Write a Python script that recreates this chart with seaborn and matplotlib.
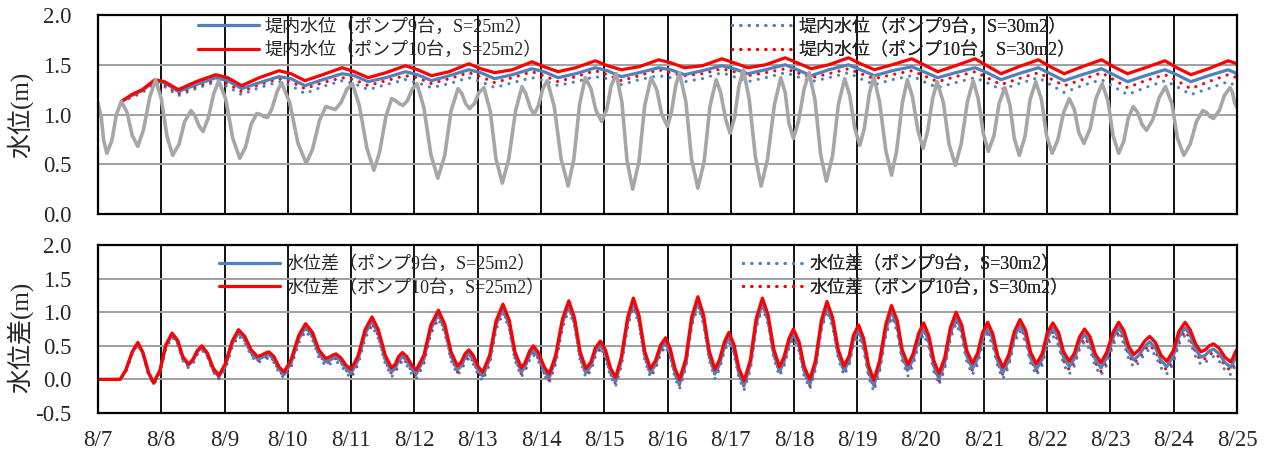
import matplotlib
matplotlib.use('Agg')
import matplotlib.pyplot as plt
import seaborn as sns
from matplotlib.lines import Line2D

# ---------------- data (days since 8/7) ----------------
DAY_LABELS = ['8/7', '8/8', '8/9', '8/10', '8/11', '8/12', '8/13', '8/14', '8/15', '8/16',
              '8/17', '8/18', '8/19', '8/20', '8/21', '8/22', '8/23', '8/24', '8/25']

TOP_LABELS = ['堤内水位（ポンプ9台，S=25m2）', '堤内水位（ポンプ10台，S=25m2）',
              '堤内水位（ポンプ9台，S=30m2）', '堤内水位（ポンプ10台，S=30m2）']
BOT_LABELS = ['水位差（ポンプ9台，S=25m2）', '水位差（ポンプ10台，S=25m2）',
              '水位差（ポンプ9台，S=30m2）', '水位差（ポンプ10台，S=30m2）']

# outside (river) water level, grey curve
GRAY_T = [0.00, 0.05, 0.09, 0.14, 0.22, 0.29, 0.37, 0.46, 0.54, 0.63, 0.72, 0.82,
          0.91, 1.00, 1.09, 1.18, 1.28, 1.37, 1.47, 1.53, 1.60, 1.66, 1.74, 1.83,
          1.91, 2.02, 2.13, 2.24, 2.33, 2.42, 2.51, 2.57, 2.62, 2.68, 2.75, 2.83,
          2.90, 3.03, 3.16, 3.29, 3.39, 3.50, 3.60, 3.65, 3.70, 3.75, 3.84, 3.93,
          4.02, 4.13, 4.25, 4.36, 4.45, 4.55, 4.64, 4.70, 4.76, 4.82, 4.89, 4.97,
          5.04, 5.15, 5.26, 5.37, 5.48, 5.58, 5.69, 5.75, 5.81, 5.87, 5.95, 6.02,
          6.10, 6.20, 6.29, 6.39, 6.49, 6.60, 6.70, 6.76, 6.83, 6.89, 6.96, 7.03,
          7.10, 7.21, 7.32, 7.43, 7.52, 7.61, 7.70, 7.79, 7.87, 7.96, 8.04, 8.11,
          8.19, 8.28, 8.36, 8.45, 8.55, 8.64, 8.74, 8.83, 8.91, 9.00, 9.06, 9.13,
          9.19, 9.29, 9.38, 9.48, 9.58, 9.67, 9.77, 9.84, 9.92, 9.99, 10.06, 10.13,
          10.20, 10.29, 10.39, 10.48, 10.58, 10.69, 10.79, 10.86, 10.92, 10.99, 11.07, 11.16,
          11.24, 11.33, 11.42, 11.51, 11.61, 11.70, 11.80, 11.88, 11.96, 12.04, 12.11, 12.19,
          12.26, 12.35, 12.45, 12.54, 12.62, 12.71, 12.79, 12.87, 12.96, 13.04, 13.11, 13.19,
          13.26, 13.36, 13.45, 13.55, 13.64, 13.74, 13.83, 13.91, 13.99, 14.07, 14.16, 14.24,
          14.33, 14.41, 14.48, 14.56, 14.65, 14.73, 14.82, 14.91, 14.99, 15.08, 15.17, 15.26,
          15.35, 15.43, 15.50, 15.58, 15.68, 15.77, 15.87, 15.96, 16.04, 16.13, 16.21, 16.28,
          16.36, 16.43, 16.50, 16.57, 16.67, 16.77, 16.87, 16.97, 17.06, 17.16, 17.26, 17.36,
          17.46, 17.52, 17.57, 17.63, 17.72, 17.80, 17.89, 17.93, 17.96, 18.00]
GRAY_V = [1.11, 0.98, 0.74, 0.61, 0.74, 1.00, 1.13, 1.02, 0.79, 0.68, 0.85, 1.18,
          1.35, 1.16, 0.78, 0.59, 0.70, 0.93, 1.04, 0.99, 0.88, 0.83, 0.96, 1.21,
          1.34, 1.15, 0.76, 0.56, 0.67, 0.90, 1.01, 1.00, 0.98, 0.97, 1.06, 1.23,
          1.32, 1.12, 0.71, 0.51, 0.65, 0.94, 1.08, 1.07, 1.06, 1.05, 1.12, 1.25,
          1.31, 1.09, 0.66, 0.44, 0.62, 0.98, 1.16, 1.14, 1.11, 1.09, 1.14, 1.26,
          1.31, 1.07, 0.60, 0.36, 0.59, 1.04, 1.26, 1.21, 1.11, 1.06, 1.11, 1.22,
          1.27, 1.03, 0.55, 0.31, 0.55, 1.04, 1.28, 1.21, 1.07, 1.00, 1.09, 1.26,
          1.34, 1.08, 0.55, 0.28, 0.55, 1.10, 1.37, 1.26, 1.04, 0.93, 1.05, 1.29,
          1.41, 1.12, 0.54, 0.25, 0.53, 1.09, 1.37, 1.25, 1.00, 0.88, 1.02, 1.29,
          1.42, 1.13, 0.55, 0.26, 0.53, 1.08, 1.35, 1.22, 0.95, 0.81, 0.97, 1.29,
          1.45, 1.16, 0.57, 0.28, 0.55, 1.10, 1.37, 1.22, 0.91, 0.76, 0.93, 1.26,
          1.42, 1.15, 0.60, 0.33, 0.59, 1.10, 1.36, 1.19, 0.86, 0.69, 0.86, 1.21,
          1.38, 1.13, 0.64, 0.39, 0.63, 1.11, 1.35, 1.18, 0.83, 0.66, 0.83, 1.16,
          1.33, 1.12, 0.70, 0.49, 0.70, 1.13, 1.34, 1.16, 0.81, 0.63, 0.79, 1.11,
          1.27, 1.10, 0.76, 0.59, 0.78, 1.15, 1.33, 1.15, 0.79, 0.61, 0.75, 1.02,
          1.16, 1.05, 0.82, 0.71, 0.86, 1.16, 1.31, 1.14, 0.79, 0.61, 0.73, 0.96,
          1.08, 1.02, 0.90, 0.84, 0.95, 1.17, 1.28, 1.11, 0.76, 0.59, 0.70, 0.93,
          1.04, 1.02, 0.98, 0.96, 1.04, 1.19, 1.27, 1.22, 1.12, 1.07]

# inner water level (top panel)
IN_T = [0.37, 0.53, 0.70, 0.90,
        1.05, 1.27, 1.55, 1.86, 2.05, 2.27, 2.55, 2.86, 3.05, 3.27, 3.55, 3.86,
        4.05, 4.27, 4.55, 4.86, 5.05, 5.27, 5.55, 5.86, 6.05, 6.27, 6.55, 6.86,
        7.05, 7.27, 7.55, 7.86, 8.05, 8.27, 8.55, 8.86, 9.05, 9.27, 9.55, 9.86,
        10.05, 10.27, 10.55, 10.86, 11.05, 11.27, 11.55, 11.86, 12.05, 12.27, 12.55, 12.86,
        13.05, 13.27, 13.55, 13.86, 14.05, 14.27, 14.55, 14.86, 15.05, 15.27, 15.55, 15.86,
        16.05, 16.27, 16.55, 16.86, 17.05, 17.27, 17.55, 17.86, 18.00]
IN_P10_S25 = [1.13, 1.20, 1.25, 1.35,
              1.33, 1.25, 1.33, 1.40, 1.37, 1.29, 1.37, 1.44, 1.41, 1.34, 1.40, 1.47,
              1.43, 1.37, 1.42, 1.49, 1.45, 1.39, 1.43, 1.51, 1.46, 1.42, 1.45, 1.53,
              1.48, 1.43, 1.47, 1.54, 1.49, 1.45, 1.48, 1.55, 1.52, 1.47, 1.49, 1.56,
              1.52, 1.47, 1.50, 1.57, 1.52, 1.46, 1.50, 1.57, 1.51, 1.45, 1.50, 1.56,
              1.50, 1.43, 1.49, 1.56, 1.49, 1.41, 1.48, 1.55, 1.48, 1.41, 1.48, 1.55,
              1.48, 1.41, 1.47, 1.54, 1.47, 1.40, 1.46, 1.54, 1.51]
IN_P9_S25 = [1.13, 1.19, 1.24, 1.34,
             1.32, 1.23, 1.30, 1.37, 1.34, 1.26, 1.32, 1.38, 1.36, 1.29, 1.35, 1.41,
             1.39, 1.33, 1.37, 1.43, 1.40, 1.34, 1.39, 1.45, 1.42, 1.36, 1.40, 1.46,
             1.43, 1.37, 1.41, 1.47, 1.44, 1.38, 1.42, 1.47, 1.45, 1.40, 1.44, 1.49,
             1.46, 1.41, 1.45, 1.50, 1.45, 1.39, 1.45, 1.50, 1.45, 1.39, 1.44, 1.48,
             1.43, 1.37, 1.42, 1.47, 1.42, 1.35, 1.41, 1.47, 1.41, 1.34, 1.40, 1.46,
             1.40, 1.33, 1.39, 1.45, 1.40, 1.33, 1.39, 1.45, 1.41]
IN_P10_S30 = [1.13, 1.18, 1.23, 1.33,
              1.30, 1.21, 1.28, 1.35, 1.31, 1.23, 1.30, 1.36, 1.33, 1.26, 1.32, 1.37,
              1.35, 1.29, 1.34, 1.39, 1.37, 1.31, 1.36, 1.42, 1.38, 1.32, 1.37, 1.43,
              1.39, 1.33, 1.38, 1.44, 1.40, 1.34, 1.39, 1.45, 1.42, 1.39, 1.41, 1.46,
              1.43, 1.39, 1.42, 1.46, 1.42, 1.37, 1.41, 1.46, 1.41, 1.36, 1.40, 1.44,
              1.39, 1.33, 1.38, 1.43, 1.37, 1.30, 1.36, 1.42, 1.36, 1.29, 1.35, 1.42,
              1.35, 1.27, 1.34, 1.40, 1.34, 1.26, 1.33, 1.40, 1.37]
IN_P9_S30 = [1.13, 1.17, 1.22, 1.32,
             1.28, 1.19, 1.26, 1.33, 1.28, 1.20, 1.27, 1.33, 1.29, 1.21, 1.28, 1.34,
             1.31, 1.25, 1.30, 1.35, 1.32, 1.27, 1.31, 1.37, 1.33, 1.27, 1.32, 1.37,
             1.34, 1.29, 1.33, 1.38, 1.36, 1.30, 1.35, 1.39, 1.37, 1.33, 1.36, 1.42,
             1.38, 1.33, 1.37, 1.42, 1.38, 1.33, 1.37, 1.42, 1.36, 1.30, 1.35, 1.39,
             1.33, 1.27, 1.32, 1.37, 1.32, 1.25, 1.31, 1.37, 1.30, 1.22, 1.29, 1.35,
             1.28, 1.20, 1.27, 1.34, 1.28, 1.20, 1.26, 1.33, 1.28]

# water level difference (bottom panel)
DIFF_T = [0.00, 0.12, 0.23, 0.35, 0.44, 0.54, 0.63, 0.71, 0.80, 0.88, 0.98, 1.07,
          1.17, 1.26, 1.34, 1.43, 1.50, 1.57, 1.64, 1.73, 1.82, 1.91, 2.01, 2.12,
          2.22, 2.32, 2.42, 2.52, 2.58, 2.64, 2.70, 2.78, 2.86, 2.94, 3.05, 3.17,
          3.28, 3.39, 3.49, 3.60, 3.65, 3.71, 3.76, 3.84, 3.92, 4.00, 4.11, 4.22,
          4.33, 4.43, 4.54, 4.64, 4.70, 4.75, 4.81, 4.88, 4.96, 5.03, 5.15, 5.26,
          5.38, 5.48, 5.58, 5.68, 5.74, 5.80, 5.86, 5.93, 6.01, 6.08, 6.19, 6.29,
          6.40, 6.50, 6.59, 6.69, 6.75, 6.82, 6.88, 6.96, 7.05, 7.13, 7.23, 7.34,
          7.44, 7.53, 7.62, 7.71, 7.79, 7.86, 7.94, 8.02, 8.10, 8.18, 8.27, 8.37,
          8.46, 8.55, 8.64, 8.73, 8.81, 8.89, 8.97, 9.04, 9.12, 9.19, 9.29, 9.38,
          9.48, 9.57, 9.66, 9.75, 9.82, 9.90, 9.97, 10.05, 10.13, 10.21, 10.31, 10.40,
          10.50, 10.59, 10.68, 10.77, 10.84, 10.92, 10.99, 11.08, 11.16, 11.25, 11.34, 11.43,
          11.52, 11.61, 11.70, 11.79, 11.87, 11.94, 12.02, 12.10, 12.18, 12.26, 12.35, 12.45,
          12.54, 12.63, 12.71, 12.80, 12.88, 12.97, 13.05, 13.13, 13.21, 13.29, 13.38, 13.47,
          13.56, 13.65, 13.73, 13.82, 13.90, 13.98, 14.06, 14.14, 14.22, 14.30, 14.39, 14.48,
          14.57, 14.66, 14.74, 14.83, 14.92, 15.00, 15.09, 15.18, 15.26, 15.35, 15.43, 15.51,
          15.59, 15.68, 15.76, 15.85, 15.94, 16.04, 16.13, 16.21, 16.29, 16.37, 16.45, 16.54,
          16.62, 16.71, 16.80, 16.89, 16.99, 17.08, 17.18, 17.26, 17.35, 17.43, 17.50, 17.56,
          17.63, 17.72, 17.81, 17.90, 17.93, 17.97, 18.00]
DIFF_P10_S25 = [0.00, 0.00, 0.00, 0.00, 0.14, 0.41, 0.55, 0.40, 0.10, -0.05, 0.14, 0.51,
                0.69, 0.58, 0.34, 0.23, 0.30, 0.43, 0.50, 0.39, 0.17, 0.06, 0.23, 0.57,
                0.74, 0.64, 0.44, 0.34, 0.36, 0.39, 0.41, 0.34, 0.19, 0.11, 0.29, 0.65,
                0.83, 0.70, 0.44, 0.31, 0.33, 0.36, 0.38, 0.32, 0.21, 0.15, 0.35, 0.74,
                0.93, 0.74, 0.36, 0.17, 0.23, 0.34, 0.40, 0.34, 0.21, 0.14, 0.36, 0.81,
                1.03, 0.82, 0.41, 0.20, 0.26, 0.38, 0.44, 0.36, 0.19, 0.11, 0.36, 0.87,
                1.12, 0.88, 0.41, 0.17, 0.25, 0.42, 0.50, 0.40, 0.19, 0.08, 0.35, 0.90,
                1.17, 0.92, 0.41, 0.16, 0.26, 0.47, 0.57, 0.44, 0.17, 0.03, 0.33, 0.92,
                1.21, 0.95, 0.42, 0.16, 0.28, 0.51, 0.62, 0.47, 0.16, 0.00, 0.31, 0.92,
                1.23, 0.96, 0.42, 0.15, 0.29, 0.56, 0.70, 0.52, 0.16, -0.02, 0.29, 0.90,
                1.21, 0.96, 0.45, 0.19, 0.33, 0.61, 0.75, 0.56, 0.19, 0.00, 0.29, 0.87,
                1.16, 0.92, 0.44, 0.20, 0.35, 0.66, 0.81, 0.61, 0.20, -0.01, 0.27, 0.82,
                1.10, 0.88, 0.44, 0.22, 0.38, 0.69, 0.84, 0.65, 0.28, 0.09, 0.32, 0.77,
                1.00, 0.81, 0.43, 0.24, 0.39, 0.70, 0.85, 0.68, 0.35, 0.18, 0.36, 0.71,
                0.89, 0.73, 0.40, 0.23, 0.38, 0.69, 0.84, 0.70, 0.41, 0.27, 0.39, 0.63,
                0.75, 0.63, 0.38, 0.25, 0.40, 0.70, 0.85, 0.73, 0.49, 0.37, 0.44, 0.57,
                0.64, 0.55, 0.36, 0.27, 0.42, 0.71, 0.85, 0.74, 0.52, 0.41, 0.44, 0.50,
                0.53, 0.46, 0.33, 0.26, 0.31, 0.40, 0.45]
DIFF_P9_S25 = [0.00, 0.00, 0.00, 0.00, 0.13, 0.40, 0.54, 0.39, 0.09, -0.06, 0.13, 0.49,
               0.67, 0.56, 0.32, 0.21, 0.28, 0.41, 0.48, 0.37, 0.15, 0.04, 0.19, 0.53,
               0.70, 0.60, 0.40, 0.30, 0.32, 0.35, 0.37, 0.30, 0.15, 0.07, 0.24, 0.60,
               0.78, 0.65, 0.39, 0.26, 0.28, 0.31, 0.33, 0.27, 0.16, 0.09, 0.29, 0.68,
               0.87, 0.68, 0.30, 0.11, 0.17, 0.28, 0.34, 0.28, 0.15, 0.08, 0.30, 0.75,
               0.97, 0.76, 0.35, 0.14, 0.20, 0.32, 0.38, 0.30, 0.13, 0.05, 0.30, 0.81,
               1.06, 0.82, 0.35, 0.11, 0.19, 0.36, 0.44, 0.34, 0.13, 0.02, 0.29, 0.84,
               1.11, 0.86, 0.35, 0.10, 0.20, 0.41, 0.51, 0.38, 0.11, -0.03, 0.27, 0.86,
               1.15, 0.89, 0.36, 0.10, 0.22, 0.45, 0.56, 0.40, 0.09, -0.07, 0.24, 0.85,
               1.16, 0.89, 0.35, 0.08, 0.22, 0.49, 0.63, 0.45, 0.09, -0.09, 0.22, 0.83,
               1.14, 0.89, 0.38, 0.12, 0.26, 0.54, 0.68, 0.49, 0.12, -0.07, 0.22, 0.80,
               1.09, 0.85, 0.37, 0.13, 0.28, 0.59, 0.73, 0.53, 0.12, -0.09, 0.19, 0.74,
               1.02, 0.80, 0.36, 0.14, 0.30, 0.61, 0.76, 0.57, 0.20, 0.01, 0.24, 0.69,
               0.92, 0.73, 0.35, 0.16, 0.31, 0.62, 0.77, 0.60, 0.27, 0.10, 0.28, 0.63,
               0.81, 0.65, 0.32, 0.15, 0.30, 0.61, 0.76, 0.62, 0.33, 0.19, 0.31, 0.55,
               0.67, 0.55, 0.30, 0.17, 0.32, 0.62, 0.77, 0.65, 0.41, 0.29, 0.36, 0.49,
               0.56, 0.47, 0.28, 0.19, 0.34, 0.63, 0.77, 0.66, 0.44, 0.33, 0.36, 0.42,
               0.45, 0.38, 0.25, 0.18, 0.23, 0.32, 0.37]
DIFF_P10_S30 = [0.00, 0.00, 0.00, 0.00, 0.12, 0.39, 0.53, 0.38, 0.08, -0.07, 0.12, 0.47,
                0.65, 0.54, 0.30, 0.19, 0.26, 0.39, 0.46, 0.35, 0.13, 0.02, 0.17, 0.51,
                0.68, 0.58, 0.38, 0.28, 0.30, 0.33, 0.35, 0.28, 0.13, 0.05, 0.22, 0.58,
                0.76, 0.63, 0.37, 0.24, 0.26, 0.29, 0.31, 0.25, 0.14, 0.06, 0.26, 0.65,
                0.84, 0.65, 0.27, 0.08, 0.14, 0.25, 0.31, 0.25, 0.12, 0.05, 0.27, 0.72,
                0.94, 0.73, 0.32, 0.11, 0.17, 0.29, 0.35, 0.27, 0.10, 0.02, 0.27, 0.78,
                1.03, 0.79, 0.32, 0.08, 0.16, 0.33, 0.41, 0.31, 0.10, -0.01, 0.26, 0.81,
                1.08, 0.83, 0.32, 0.07, 0.17, 0.38, 0.48, 0.35, 0.08, -0.06, 0.24, 0.83,
                1.12, 0.86, 0.33, 0.07, 0.19, 0.42, 0.53, 0.38, 0.07, -0.09, 0.22, 0.83,
                1.14, 0.87, 0.33, 0.06, 0.20, 0.47, 0.61, 0.43, 0.07, -0.11, 0.20, 0.81,
                1.12, 0.87, 0.36, 0.10, 0.24, 0.52, 0.66, 0.47, 0.10, -0.09, 0.20, 0.78,
                1.07, 0.83, 0.35, 0.11, 0.26, 0.57, 0.70, 0.50, 0.09, -0.12, 0.16, 0.71,
                0.99, 0.77, 0.33, 0.11, 0.27, 0.58, 0.73, 0.54, 0.17, -0.02, 0.21, 0.66,
                0.89, 0.70, 0.32, 0.13, 0.28, 0.59, 0.74, 0.57, 0.24, 0.07, 0.25, 0.60,
                0.78, 0.62, 0.29, 0.12, 0.27, 0.56, 0.71, 0.57, 0.28, 0.14, 0.26, 0.50,
                0.62, 0.50, 0.25, 0.12, 0.27, 0.57, 0.72, 0.60, 0.36, 0.24, 0.31, 0.44,
                0.51, 0.42, 0.23, 0.14, 0.29, 0.58, 0.72, 0.61, 0.39, 0.28, 0.31, 0.37,
                0.40, 0.33, 0.20, 0.13, 0.18, 0.27, 0.32]
DIFF_P9_S30 = [0.00, 0.00, 0.00, 0.00, 0.11, 0.38, 0.52, 0.37, 0.07, -0.08, 0.11, 0.45,
               0.63, 0.52, 0.28, 0.17, 0.24, 0.37, 0.44, 0.33, 0.11, 0.00, 0.14, 0.48,
               0.65, 0.55, 0.35, 0.25, 0.27, 0.30, 0.32, 0.25, 0.10, 0.02, 0.18, 0.54,
               0.72, 0.59, 0.33, 0.20, 0.22, 0.25, 0.27, 0.21, 0.10, 0.02, 0.22, 0.61,
               0.80, 0.61, 0.23, 0.04, 0.10, 0.21, 0.27, 0.21, 0.08, 0.01, 0.23, 0.68,
               0.90, 0.69, 0.28, 0.07, 0.13, 0.25, 0.31, 0.23, 0.06, -0.02, 0.23, 0.74,
               0.99, 0.75, 0.28, 0.04, 0.12, 0.29, 0.37, 0.27, 0.06, -0.05, 0.22, 0.77,
               1.04, 0.79, 0.28, 0.03, 0.13, 0.34, 0.44, 0.31, 0.04, -0.10, 0.20, 0.79,
               1.08, 0.82, 0.29, 0.03, 0.15, 0.38, 0.49, 0.33, 0.02, -0.14, 0.17, 0.78,
               1.09, 0.82, 0.28, 0.01, 0.15, 0.42, 0.56, 0.38, 0.02, -0.16, 0.15, 0.76,
               1.07, 0.82, 0.31, 0.05, 0.19, 0.47, 0.61, 0.42, 0.05, -0.14, 0.15, 0.73,
               1.02, 0.78, 0.30, 0.06, 0.21, 0.52, 0.64, 0.44, 0.03, -0.18, 0.10, 0.65,
               0.93, 0.71, 0.27, 0.05, 0.21, 0.52, 0.67, 0.48, 0.11, -0.08, 0.15, 0.60,
               0.83, 0.64, 0.26, 0.07, 0.22, 0.53, 0.68, 0.51, 0.18, 0.01, 0.19, 0.54,
               0.72, 0.56, 0.23, 0.06, 0.21, 0.50, 0.65, 0.51, 0.22, 0.08, 0.20, 0.44,
               0.56, 0.44, 0.19, 0.06, 0.21, 0.51, 0.66, 0.54, 0.30, 0.18, 0.25, 0.38,
               0.45, 0.36, 0.17, 0.08, 0.23, 0.52, 0.66, 0.55, 0.33, 0.22, 0.25, 0.31,
               0.34, 0.27, 0.14, 0.07, 0.12, 0.21, 0.26]

assert len(GRAY_T) == len(GRAY_V)
for s in (IN_P10_S25, IN_P9_S25, IN_P10_S30, IN_P9_S30):
    assert len(s) == len(IN_T)
for s in (DIFF_P10_S25, DIFF_P9_S25, DIFF_P10_S30, DIFF_P9_S30):
    assert len(s) == len(DIFF_T), (len(s), len(DIFF_T))

# ---------------- style ----------------
BLUE = '#4F81BD'
RED = '#FF0000'
GREY = '#A6A6A6'
DOT = (0, (0.01, 2.6))

sns.set_theme(style='white')
plt.rcParams['font.family'] = ['Liberation Serif', 'Noto Sans CJK JP']
plt.rcParams['axes.unicode_minus'] = False

W, H = 1267, 459
fig = plt.figure(figsize=(W / 100, H / 100), dpi=100)
ax1 = fig.add_axes([98 / W, 1 - 214 / H, 1139 / W, 199 / H])
ax2 = fig.add_axes([98 / W, 1 - 413 / H, 1139 / W, 168 / H])


def style_axes(ax, ylim, yticks, show_x):
    ax.set_xlim(0, 18)
    ax.set_ylim(*ylim)
    ax.set_xticks(range(19))
    ax.set_yticks(yticks)
    ax.set_yticklabels(['%.1f' % v for v in yticks])
    if show_x:
        ax.set_xticklabels(DAY_LABELS)
    else:
        ax.set_xticklabels([])
    ax.set_axisbelow(True)
    ax.yaxis.grid(True, color='#A0A0A0', linewidth=1.4)
    ax.xaxis.grid(True, color='black', linewidth=1.3)
    for sp in ax.spines.values():
        sp.set_color('black')
        sp.set_linewidth(1.6)
        sp.set_visible(True)
    ax.tick_params(axis='y', length=0, labelsize=16.5, pad=19)
    ax.tick_params(axis='x', length=0, labelsize=16.5, pad=12)


def draw(ax, x, y, color, lw, dotted=False, z=2):
    kw = dict(linestyle=DOT, dash_capstyle='round') if dotted else dict(solid_joinstyle='round',
                                                                        solid_capstyle='round')
    sns.lineplot(x=x, y=y, ax=ax, color=color, linewidth=lw, errorbar=None,
                 sort=False, zorder=z, **kw)


# top panel
draw(ax1, IN_T, IN_P9_S30, BLUE, 2.3, dotted=True, z=2)
draw(ax1, IN_T, IN_P10_S30, RED, 2.3, dotted=True, z=2.1)
draw(ax1, IN_T, IN_P9_S25, BLUE, 2.3, z=2.2)
draw(ax1, IN_T, IN_P10_S25, RED, 2.3, z=2.3)
draw(ax1, GRAY_T, GRAY_V, GREY, 2.6, z=2.5)
style_axes(ax1, (0, 2.0), [0.0, 0.5, 1.0, 1.5, 2.0], False)
ax1.set_ylabel('水位(m)', fontsize=18)
ax1.yaxis.set_label_coords(-0.057, 0.5)

# bottom panel
draw(ax2, DIFF_T, DIFF_P9_S30, BLUE, 2.3, dotted=True, z=2)
draw(ax2, DIFF_T, DIFF_P10_S30, RED, 2.3, dotted=True, z=2.1)
draw(ax2, DIFF_T, DIFF_P9_S25, BLUE, 2.3, z=2.2)
draw(ax2, DIFF_T, DIFF_P10_S25, RED, 2.3, z=2.3)
style_axes(ax2, (-0.5, 2.0), [-0.5, 0.0, 0.5, 1.0, 1.5, 2.0], True)
ax2.set_ylabel('水位差(m)', fontsize=18)
ax2.yaxis.set_label_coords(-0.057, 0.45)


def handle(color, dotted):
    if dotted:
        return Line2D([], [], color=color, linewidth=2.3, linestyle=DOT, dash_capstyle='round')
    return Line2D([], [], color=color, linewidth=2.3)


def add_legend(ax, handles, labels, x_px, y_px):
    lg = ax.legend(handles, labels, loc='center left',
                   bbox_to_anchor=(x_px / W, 1 - y_px / H), bbox_transform=fig.transFigure,
                   frameon=False, fontsize=13, handlelength=3.4, handletextpad=0.3,
                   labelspacing=0.33, borderpad=0, borderaxespad=0)
    ax.add_artist(lg)
    return lg


add_legend(ax1, [handle(BLUE, False), handle(RED, False)], TOP_LABELS[:2], 198, 38.5)
add_legend(ax1, [handle(BLUE, True), handle(RED, True)], TOP_LABELS[2:], 732, 38.5)
add_legend(ax2, [handle(BLUE, False), handle(RED, False)], BOT_LABELS[:2], 219, 276)
add_legend(ax2, [handle(BLUE, True), handle(RED, True)], BOT_LABELS[2:], 743, 276)

fig.savefig('out.png', dpi=100)
